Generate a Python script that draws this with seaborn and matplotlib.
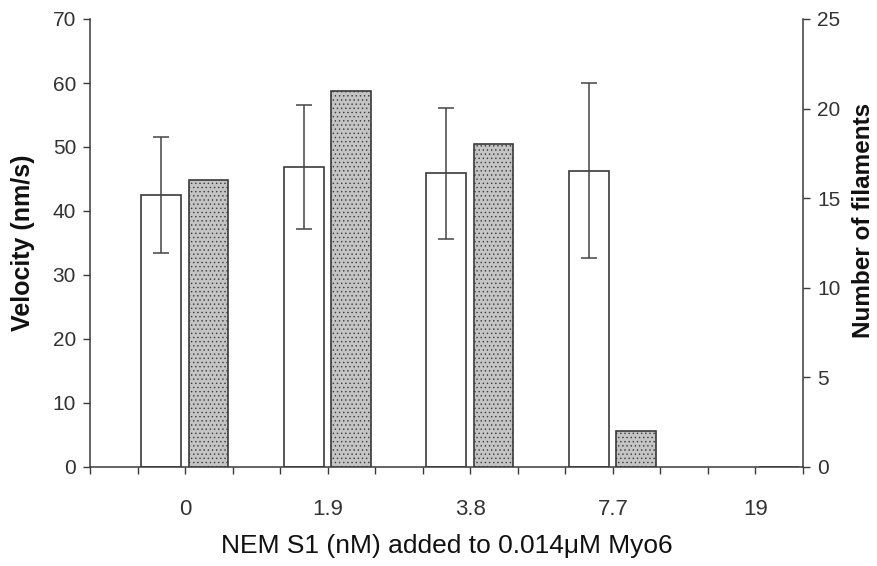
import numpy as np
import seaborn as sns
import matplotlib.pyplot as plt
from matplotlib.ticker import MultipleLocator

categories = ['0', '1.9', '3.8', '7.7', '19']
velocity = [42.5, 46.9, 45.9, 46.3, np.nan]
velocity_err = [9.1, 9.65, 10.2, 13.7, np.nan]
filaments = [16, 21, 18, 2, 0]

sns.set_style('ticks')
plt.rcParams['font.family'] = ['Liberation Sans', 'DejaVu Sans']
plt.rcParams['hatch.linewidth'] = 0.5
plt.rcParams['hatch.color'] = '#b0b0b0'

edge = '#3a3a3a'
txt = '#333333'
pos = np.arange(len(categories))
bar_w = 0.278

fig = plt.figure(figsize=(8.77, 5.66), dpi=100)
ax = fig.add_axes([90 / 877, 1 - 467 / 566, 713 / 877, 448 / 566])
ax2 = ax.twinx()

# velocity bars (left axis), shifted left of the category centre
sns.barplot(x=pos - 0.168, y=velocity, native_scale=True, width=bar_w,
            color='white', edgecolor=edge, linewidth=1.2, errorbar=None, ax=ax)
for p in ax.patches:
    p.set_facecolor('white')
ax.errorbar(pos - 0.168, velocity, yerr=velocity_err, fmt='none',
            ecolor='#444444', elinewidth=1.1, capsize=6, capthick=1.1, zorder=5)

# filament counts (right axis)
sns.barplot(x=pos + 0.164, y=filaments, native_scale=True, width=bar_w,
            color='#c4c4c4', edgecolor=edge, linewidth=1.2, errorbar=None, ax=ax2)
for p in ax2.patches:
    p.set_facecolor('#c4c4c4')
    p.set_hatch('....')
    p.set_edgecolor(edge)

ax.set_xlim(-2 / 3, 13 / 3)
ax.set_ylim(0, 70)
ax2.set_ylim(0, 25)
ax.set_yticks(np.arange(0, 71, 10))
ax2.set_yticks(np.arange(0, 26, 5))
ax.set_xticks(pos)
ax.set_xticklabels(categories, fontsize=16, color=txt)
ax.xaxis.set_minor_locator(MultipleLocator(1 / 3))
ax.tick_params(axis='x', which='both', length=5, width=1, color=edge, pad=18)
ax2.tick_params(axis='x', which='both', bottom=False, labelbottom=False)
ax.tick_params(axis='y', length=5, width=1, color=edge, labelsize=15,
               labelcolor=txt, pad=5)
ax2.tick_params(axis='y', length=5, width=1, color=edge, labelsize=15,
                labelcolor=txt, pad=5)
for lab in ax.get_xticklabels():
    lab.set_fontsize(16)

for a in (ax, ax2):
    a.spines['top'].set_visible(False)
    for s in ('left', 'right', 'bottom'):
        a.spines[s].set_color(edge)
        a.spines[s].set_linewidth(1.1)
ax.spines['right'].set_visible(False)
ax2.spines['left'].set_visible(False)
ax2.spines['bottom'].set_visible(False)

ax.set_xlabel('NEM S1 (nM) added to 0.014μM Myo6', fontsize=19, color='#111111', labelpad=10)
ax.set_ylabel('Velocity (nm/s)', fontsize=18, fontweight='bold', color='#111111')
ax2.set_ylabel('Number of filaments', fontsize=17.5, fontweight='bold', color='#111111')
ax.yaxis.set_label_coords(-55 / 713, 0.5)
ax2.yaxis.set_label_coords(1 + 49 / 713, 0.55)

fig.savefig('out.png', dpi=100, facecolor='white')
